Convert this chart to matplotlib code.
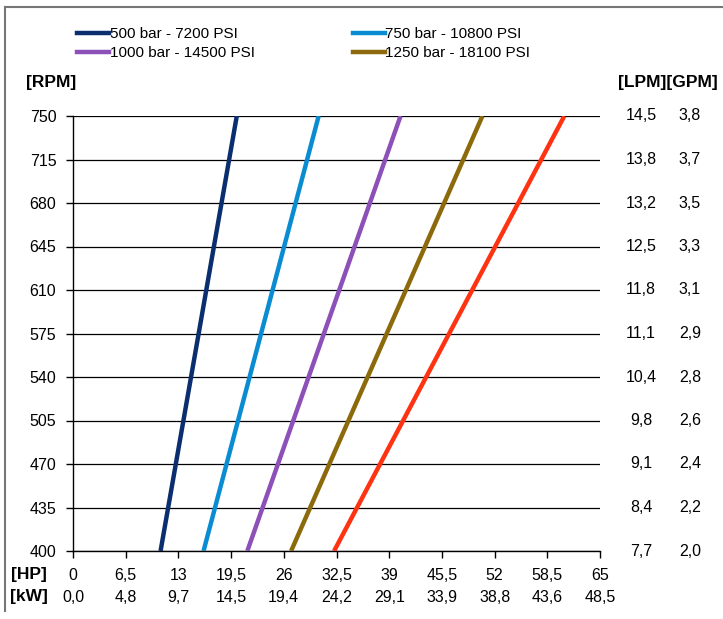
import matplotlib.pyplot as plt
from matplotlib.lines import Line2D

plt.rcParams['font.family'] = ['Liberation Sans', 'DejaVu Sans']

rpm = [400, 750]
series_names = ["500 bar - 7200 PSI", "750 bar - 10800 PSI",
                "1000 bar - 14500 PSI", "1250 bar - 18100 PSI", None]
series_hp = [
    [10.8, 20.2],
    [16.1, 30.3],
    [21.5, 40.4],
    [26.9, 50.5],
    [32.2, 60.6],
]
series_colors = ["#0b2f6e", "#0a8cd2", "#8d50b8", "#8c6a0c", "#ff3311"]

rpm_ticks = [400, 435, 470, 505, 540, 575, 610, 645, 680, 715, 750]
lpm_labels = ["7,7", "8,4", "9,1", "9,8", "10,4", "11,1", "11,8", "12,5", "13,2", "13,8", "14,5"]
gpm_labels = ["2,0", "2,2", "2,4", "2,6", "2,8", "2,9", "3,1", "3,3", "3,5", "3,7", "3,8"]
hp_ticks = [0, 6.5, 13, 19.5, 26, 32.5, 39, 45.5, 52, 58.5, 65]
hp_labels = ["0", "6,5", "13", "19,5", "26", "32,5", "39", "45,5", "52", "58,5", "65"]
kw_labels = ["0,0", "4,8", "9,7", "14,5", "19,4", "24,2", "29,1", "33,9", "38,8", "43,6", "48,5"]

W, H = 723, 619
fs = 11.5
bfs = 12.5
fig = plt.figure(figsize=(W / 100, H / 100), dpi=100)
ax = fig.add_axes([73 / W, 1 - 551 / H, (600 - 73) / W, (551 - 116) / H])

for hp, color, name in zip(series_hp, series_colors, series_names):
    ax.plot(hp, rpm, color=color, lw=3.2, solid_capstyle='butt', label=name, zorder=3)

ax.set_xlim(0, 65)
ax.set_ylim(400, 750)
ax.set_yticks(rpm_ticks)
ax.set_yticklabels([str(v) for v in rpm_ticks], fontsize=fs)
ax.set_xticks(hp_ticks)
ax.set_xticklabels([])
ax.tick_params(axis='both', direction='out', length=5, width=1, color='black', pad=7)
ax.yaxis.grid(True, color='black', lw=0.9)
ax.set_axisbelow(True)
for side in ['top', 'right']:
    ax.spines[side].set_visible(False)
for side in ['left', 'bottom']:
    ax.spines[side].set_color('black')
    ax.spines[side].set_linewidth(1)

# bottom HP / kW labels
xt = ax.get_xaxis_transform()
for x, hl, kl in zip(hp_ticks, hp_labels, kw_labels):
    ax.annotate(hl, (x, 0), xycoords=xt, xytext=(0, -24), textcoords='offset pixels',
                ha='center', va='center', fontsize=fs)
    ax.annotate(kl, (x, 0), xycoords=xt, xytext=(0, -46), textcoords='offset pixels',
                ha='center', va='center', fontsize=fs)
fig.text(29 / W, 1 - 575 / H, "[HP]", ha='center', va='center', fontsize=bfs, fontweight='bold')
fig.text(29 / W, 1 - 597 / H, "[kW]", ha='center', va='center', fontsize=bfs, fontweight='bold')

# right LPM / GPM labels
yt = ax.get_yaxis_transform()
for y, ll, gl in zip(rpm_ticks, lpm_labels, gpm_labels):
    ax.annotate(ll, (1, y), xycoords=yt, xytext=(641 - 600, 0), textcoords='offset pixels',
                ha='center', va='center', fontsize=fs)
    ax.annotate(gl, (1, y), xycoords=yt, xytext=(690 - 600, 0), textcoords='offset pixels',
                ha='center', va='center', fontsize=fs)
fig.text(51 / W, 1 - 82 / H, "[RPM]", ha='center', va='center', fontsize=bfs, fontweight='bold')
fig.text(668 / W, 1 - 82 / H, "[LPM][GPM]", ha='center', va='center', fontsize=bfs, fontweight='bold')

# legend (four named series), filled row by row
order = [0, 2, 1, 3]
handles = [Line2D([], [], color=series_colors[i], lw=3.2) for i in order]
labels = [series_names[i] for i in order]
fig.legend(handles, labels, loc='upper left', ncol=2,
           bbox_to_anchor=(77 / W, 1 - 27 / H), frameon=False, fontsize=11,
           handlelength=2.1, handletextpad=0.05, columnspacing=6.4,
           labelspacing=0.35, borderpad=0, borderaxespad=0)

# outer frame
fig.add_artist(Line2D([5 / W, 5 / W], [1 - 7 / H, 1 - 611 / H], color='#777777', lw=1.5))
fig.add_artist(Line2D([5 / W, 1], [1 - 7 / H, 1 - 7 / H], color='#777777', lw=1.5))

fig.savefig("out.png", dpi=100)
